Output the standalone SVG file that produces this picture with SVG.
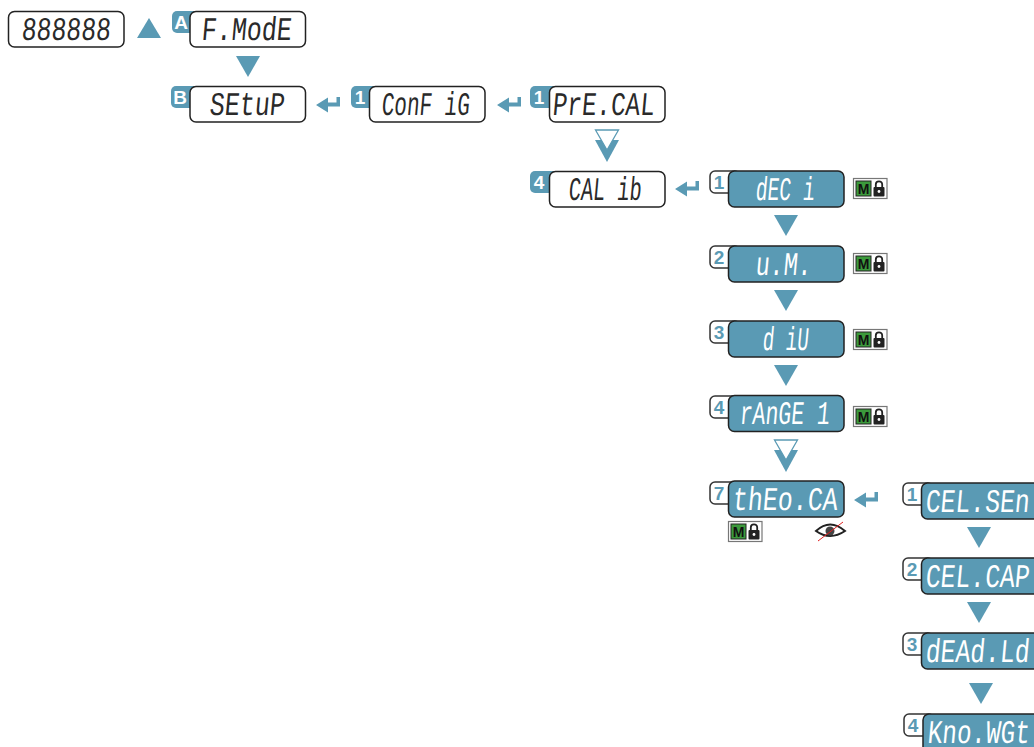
<svg xmlns="http://www.w3.org/2000/svg" width="1034" height="747" viewBox="0 0 1034 747">
<style>
.n{fill:#fff;stroke:#222;stroke-width:1.5}
.t{fill:#5a9ab4;stroke:#222;stroke-width:1.5}
.bd{fill:#5a9ab4;stroke:none}
.bl{fill:#fff;stroke:#333;stroke-width:1.5}
.lb{font:700 19px "Liberation Sans",Arial,sans-serif;text-anchor:middle}
.seg{font-family:"Liberation Mono","Courier New",monospace;font-size:33px}
.d{fill:#2a2a2a}
.w{fill:#fff}
.a{fill:#5a9ab4}
.h{fill:#fff;stroke:#5a9ab4;stroke-width:1.3}
</style>
<defs>
<path id="dn" d="M-12 0H12L0 21Z" class="a"/>
<g id="dbl"><path d="M-12 10H12L0 32Z" class="a"/><path d="M-11.500 0H11.500L0 20Z" class="h"/></g>
<path id="ret" class="a" d="M0 8L12 0.500V5.500H20.500V0H24V9.500H12V15.500Z"/>
<g id="ml">
<rect x="0.500" y="0.500" width="33.500" height="20" fill="#fff" stroke="#777" stroke-width="1.200"/>
<rect x="3" y="3" width="15" height="15" fill="#3c9a3c" stroke="#222"/>
<text x="10.500" y="15.500" text-anchor="middle" style="font:700 14px 'Liberation Sans',Arial,sans-serif" fill="#111">M</text>
<rect x="20.500" y="9" width="11" height="9.500" rx="1" fill="#222"/>
<path d="M22.800 9V6.500a3.200 3.200 0 0 1 6.400 0V9" fill="none" stroke="#222" stroke-width="1.800"/>
<circle cx="26" cy="13.500" r="1.400" fill="#fff"/>
</g>
</defs>
<g id="connectors">
<path d="M137 38L149 18L161 38Z" class="a"/>
<use href="#dn" x="248" y="56"/>
<use href="#ret" x="316" y="97"/>
<use href="#ret" x="497" y="97"/>
<use href="#dbl" x="607" y="130"/>
<use href="#ret" x="675" y="181"/>
<use href="#dn" x="786" y="215"/>
<use href="#dn" x="786" y="290"/>
<use href="#dn" x="786" y="365"/>
<use href="#dbl" x="786" y="440"/>
<use href="#ret" x="854" y="492"/>
<use href="#dn" x="979" y="527"/>
<use href="#dn" x="979" y="602"/>
<use href="#dn" x="981" y="683"/>
</g>
<g id="n0"><rect x="8.500" y="11.500" width="115.500" height="35.500" rx="6" class="n"/><text class="seg d" transform="matrix(.75 0 -.09 1 21 39.500)">888888</text></g>
<g id="nA"><rect x="172" y="11" width="30" height="22" rx="5" class="bd"/><text class="lb w" x="181" y="29">A</text><rect x="190" y="11.500" width="115.500" height="35.500" rx="6" class="n"/><text class="seg d" transform="matrix(.757 0 -.09 1 201 39.500)">F.ModE</text></g>
<g id="nB"><rect x="171" y="86" width="30" height="22" rx="5" class="bd"/><text class="lb w" x="180" y="104">B</text><rect x="190" y="86.500" width="115.500" height="35.500" rx="6" class="n"/><text class="seg d" transform="matrix(.757 0 -.09 1 209 114.500)">SEtuP</text></g>
<g id="nConfig"><rect x="351" y="86" width="30" height="22" rx="5" class="bd"/><text class="lb w" x="360" y="104">1</text><rect x="369.500" y="86.500" width="115.500" height="35.500" rx="6" class="n"/><text class="seg d" transform="matrix(.635 0 -.09 1 381 114.500)">ConF iG</text></g>
<g id="nPreCal"><rect x="530" y="86" width="30" height="22" rx="5" class="bd"/><text class="lb w" x="539" y="104">1</text><rect x="549.500" y="86.500" width="115.500" height="35.500" rx="6" class="n"/><text class="seg d" transform="matrix(.736 0 -.09 1 552 114.500)">PrE.CAL</text></g>
<g id="nCalib"><rect x="530" y="171" width="30" height="22" rx="5" class="bd"/><text class="lb w" x="539" y="189">4</text><rect x="549.500" y="171.500" width="115.500" height="35.500" rx="6" class="n"/><text class="seg d" transform="matrix(.614 0 -.09 1 568 199.500)">CAL ib</text></g>
<g id="nDec"><rect x="710" y="171" width="30" height="22" rx="5" class="bl"/><text class="lb a" x="719" y="189">1</text><rect x="728.500" y="171" width="115.500" height="36" rx="6" class="t"/><text class="seg w" transform="matrix(.596 0 -.09 1 755 199.500)">dEC i</text><use href="#ml" x="853" y="178"/></g>
<g id="nUm"><rect x="710" y="246" width="30" height="22" rx="5" class="bl"/><text class="lb a" x="719" y="264">2</text><rect x="728.500" y="246" width="115.500" height="36" rx="6" class="t"/><text class="seg w" transform="matrix(.707 0 -.09 1 755 274.500)">u.M.</text><use href="#ml" x="853" y="253"/></g>
<g id="nDiv"><rect x="710" y="321" width="30" height="22" rx="5" class="bl"/><text class="lb a" x="719" y="339">3</text><rect x="728.500" y="321" width="115.500" height="36" rx="6" class="t"/><text class="seg w" transform="matrix(.58 0 -.09 1 762 349.500)">d iU</text><use href="#ml" x="853" y="329"/></g>
<g id="nRange"><rect x="710" y="396" width="30" height="22" rx="5" class="bl"/><text class="lb a" x="719" y="414">4</text><rect x="728.500" y="395.500" width="115.500" height="36" rx="6" class="t"/><text class="seg w" transform="matrix(.65 0 -.09 1 739 424)">rAnGE 1</text><use href="#ml" x="853" y="406"/></g>
<g id="nTheo"><rect x="710" y="482" width="30" height="22" rx="5" class="bl"/><text class="lb a" x="719" y="500">7</text><rect x="728.500" y="481" width="115.500" height="36" rx="6" class="t"/><text class="seg w" transform="matrix(.757 0 -.09 1 732 509.500)">thEo.CA</text><use href="#ml" x="728" y="521"/>
<path d="M816 531Q830 518 845 531Q830 541 816 531Z" fill="#fff" stroke="#222" stroke-width="2"/><circle cx="830" cy="531" r="4.500" fill="#444"/><path d="M818 541L843 522" stroke="#e02020" stroke-width="1"/></g>
<g id="nCelSen"><rect x="903" y="483" width="30" height="22" rx="5" class="bl"/><text class="lb a" x="912" y="501">1</text><rect x="921.500" y="483" width="118" height="36" rx="6" class="t"/><text class="seg w" transform="matrix(.75 0 -.09 1 925 511.500)">CEL.SEn</text></g>
<g id="nCelCap"><rect x="903" y="558" width="30" height="22" rx="5" class="bl"/><text class="lb a" x="912" y="576">2</text><rect x="921.500" y="558" width="118" height="36" rx="6" class="t"/><text class="seg w" transform="matrix(.75 0 -.09 1 925 586.500)">CEL.CAP</text></g>
<g id="nDead"><rect x="903" y="633" width="30" height="22" rx="5" class="bl"/><text class="lb a" x="912" y="651">3</text><rect x="921.500" y="633" width="118" height="36" rx="6" class="t"/><text class="seg w" transform="matrix(.75 0 -.09 1 925 661.500)">dEAd.Ld</text></g>
<g id="nKno"><rect x="904" y="714" width="30" height="22" rx="5" class="bl"/><text class="lb a" x="913" y="732">4</text><rect x="923" y="714" width="118" height="40" rx="6" class="t"/><text class="seg w" transform="matrix(.736 0 -.09 1 927 742.500)">Kno.WGt</text></g>
</svg>
